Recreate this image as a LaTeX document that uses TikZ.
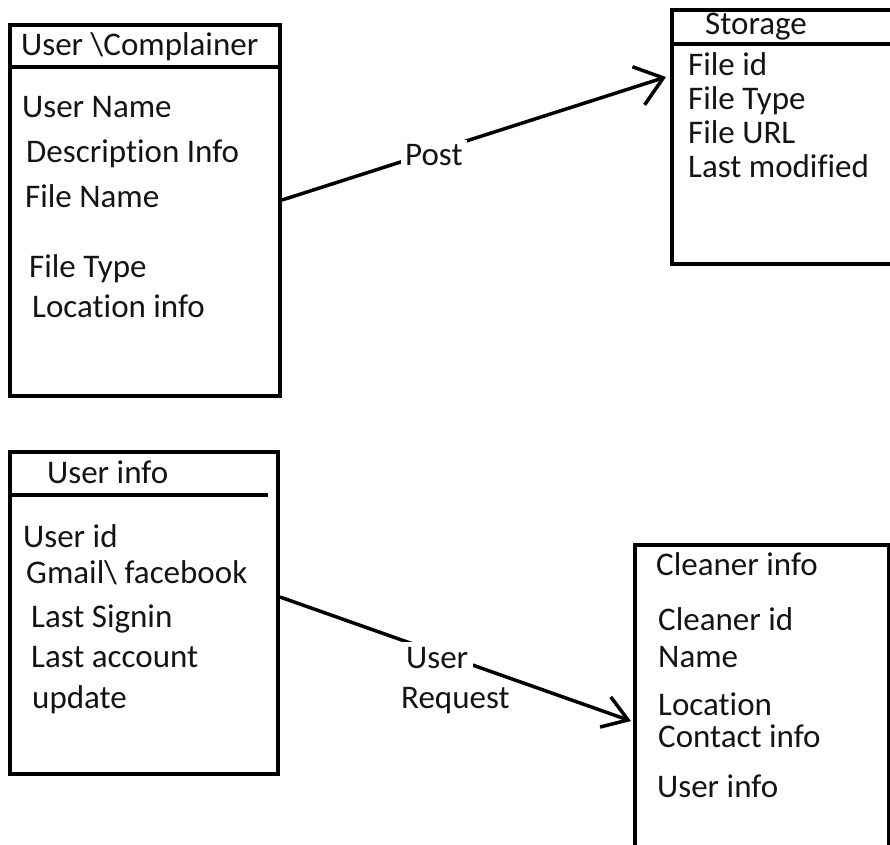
\documentclass[tikz,border=0pt]{standalone}
\usepackage{fontspec}
\setmainfont{Carlito}[Ligatures=NoCommon]
\usetikzlibrary{arrows.meta}
\begin{document}
\begin{tikzpicture}[x=1pt,y=-1pt,
  entity/.style={draw, line width=4pt, rectangle, inner sep=0pt, anchor=north west},
  divider/.style={line width=3.5pt},
  field/.style={anchor=base west, inner sep=0pt, text=black!92,
                font=\fontsize{33}{39}\selectfont},
  link/.style={line width=3.5pt},
  tag/.style={field, fill=white, inner sep=5pt}
]
\useasboundingbox (0,0) rectangle (890,844);
\clip (0,0) rectangle (890,844);

% ---- entity boxes ----
\node[entity, minimum width=270pt, minimum height=371pt] (complainer) at (8,23) {};
\node[entity, minimum width=300pt, minimum height=254pt] (storage)    at (670,8) {};
\node[entity, minimum width=268pt, minimum height=322pt] (userinfo)   at (8,450) {};
\node[entity, minimum width=254pt, minimum height=400pt] (cleaner)    at (633,543) {};

% header separators
\draw[divider] (complainer.west |- 0,67) -- (complainer.east |- 0,67);
\draw[divider] (storage.west |- 0,44) -- (storage.east |- 0,44);
\draw[divider] (userinfo.west |- 0,495) -- (268,495);

% ---- User \Complainer ----
\node[field] (c0) at (21,55)  {User \textbackslash Complainer};
\node[field] (c1) at (22,117) {User Name};
\node[field] (c2) at (26,162) {Description Info};
\node[field] (c3) at (25,207) {File Name};
\node[field] (c4) at (29,277) {File Type};
\node[field] (c5) at (32,317) {Location info};

% ---- Storage ----
\node[field] (s0) at (705,34)  {Storage};
\node[field] (s1) at (688,75)  {File id};
\node[field] (s2) at (688,109) {File Type};
\node[field] (s3) at (688,143) {File URL};
\node[field] (s4) at (688,177) {Last modified};

% ---- User info ----
\node[field] (u0) at (47,483) {User info};
\node[field] (u1) at (23,547) {User id};
\node[field] (u2) at (26,583) {Gmail\textbackslash{} facebook};
\node[field] (u3) at (31,627) {Last Signin};
\node[field] (u4) at (31,667) {Last account};
\node[field] (u5) at (32,708) {update};

% ---- Cleaner info ----
\node[field] (k0) at (656,575) {Cleaner info};
\node[field] (k1) at (658,630) {Cleaner id};
\node[field] (k2) at (658,667) {Name};
\node[field] (k3) at (658,715) {Location};
\node[field] (k4) at (658,747) {Contact info};
\node[field] (k5) at (657,797) {User info};

% ---- connectors ----
\coordinate (postFrom) at (complainer.east |- 0,200);
\coordinate (postTo)   at (666,77);
\coordinate (reqFrom)  at (userinfo.east |- 0,597);
\coordinate (reqTo)    at (631,721);

\draw[link, -{Straight Barb[length=26pt, width=40pt]}] (postFrom) -- (postTo);
\draw[link, -{Straight Barb[length=24pt, width=32pt]}] (reqFrom) -- (reqTo);

% connector labels, knocking the line out behind them
\node[tag, inner sep=4pt] (postLbl) at (401,165) {Post};
\node[tag] (reqLbl) at (401,668) {User};
\node[field] (reqLbl2) at (401,708) {Request};
\end{tikzpicture}
\end{document}
